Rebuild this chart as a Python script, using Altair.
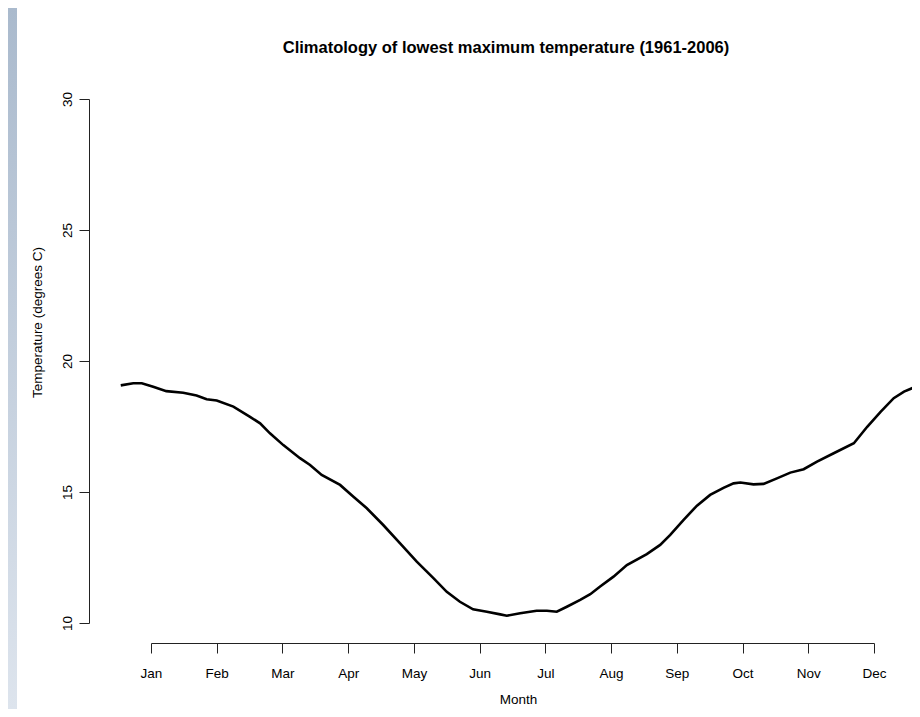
import altair as alt
import pandas as pd

# Day of year and smoothed lowest maximum temperature (degrees C)
days = [1.2, 6.9, 10.8, 16, 22, 29.7, 35.8, 40.4, 45, 52.6, 60.2, 64.8, 69.3, 75.4,
        83, 87.6, 92.9, 101.3, 107.4, 113.5, 121, 128.7, 136.3, 143.9, 150, 156,
        162, 168.3, 174.4, 177.4, 183.5, 191, 195.7, 200.2, 204.8, 210.9, 215.5,
        220, 226.1, 232.2, 241.3, 247.4, 252, 258, 264.2, 270.2, 276.3, 280.9,
        284, 290, 294.6, 300.7, 306.8, 312.9, 319, 326.6, 335.8, 341.9, 348, 354,
        358.7, 364.8]
temps = [19.07, 19.15, 19.15, 19.02, 18.85, 18.79, 18.68, 18.54, 18.49, 18.26,
         17.87, 17.62, 17.24, 16.79, 16.29, 16.03, 15.65, 15.27, 14.82, 14.38,
         13.74, 13.04, 12.34, 11.71, 11.19, 10.81, 10.52, 10.43, 10.33, 10.28,
         10.37, 10.47, 10.47, 10.43, 10.62, 10.88, 11.10, 11.39, 11.77, 12.21,
         12.63, 12.98, 13.36, 13.93, 14.48, 14.89, 15.16, 15.33, 15.36, 15.29,
         15.31, 15.52, 15.74, 15.87, 16.16, 16.48, 16.86, 17.49, 18.06, 18.58,
         18.83, 19.05]

month_labels = ["Jan", "Feb", "Mar", "Apr", "May", "Jun",
                "Jul", "Aug", "Sep", "Oct", "Nov", "Dec"]
month_ticks = [15, 45, 75, 105, 135, 165, 195, 225, 255, 285, 315, 345]
y_ticks = [10, 15, 20, 25, 30]

df = pd.DataFrame({"day": days, "temp": temps})

label_expr = "{" + ",".join(f"'{t}':'{m}'" for t, m in zip(month_ticks, month_labels)) + "}[datum.value]"

FONT = "Liberation Sans"
W, H = 723, 524

line = alt.Chart(df).mark_line(color="black", strokeWidth=2.6).encode(
    x=alt.X("day:Q",
            scale=alt.Scale(domain=[15, 345], nice=False, zero=False),
            axis=alt.Axis(values=month_ticks, labelExpr=label_expr, title="Month",
                          offset=20, tickSize=10, labelPadding=24,
                          labelAlign="center", labelFlush=False,
                          labelBaseline="alphabetic", labelFontSize=13.5,
                          titleFontSize=13.5, titleFontWeight="normal",
                          titleX=367, titleY=60, titleBaseline="alphabetic",
                          titleAlign="center", grid=False,
                          domainColor="#222222", tickColor="#222222")),
    y=alt.Y("temp:Q",
            scale=alt.Scale(domain=[10, 30], nice=False, zero=False),
            axis=alt.Axis(values=y_ticks, title="Temperature (degrees C)",
                          offset=62, tickSize=10, labelPadding=8,
                          labelAngle=-90, labelAlign="center", labelFlush=False,
                          labelBaseline="alphabetic", labelFontSize=13.5,
                          titleFontSize=13.5, titleFontWeight="normal",
                          titleAngle=-90, titleX=-48, titleY=223,
                          titleBaseline="alphabetic", titleAlign="center",
                          grid=False, domainColor="#222222", tickColor="#222222")),
)

strip = alt.Chart(alt.Data(values=[{}])).mark_rect(
    fill=alt.LinearGradient(
        gradient="linear",
        stops=[alt.GradientStop(color="#aabacd", offset=0),
               alt.GradientStop(color="#dde4ed", offset=1)],
        x1=0, x2=0, y1=0, y2=1),
).encode(x=alt.value(-143), x2=alt.value(-134), y=alt.value(-91), y2=alt.value(610))

chart = alt.layer(strip, line).properties(
    width=W, height=H,
    background="white",
    autosize=alt.AutoSizeParams(type="none"),
    padding={"left": 143, "top": 91, "right": 38, "bottom": 86},
    title=alt.TitleParams("Climatology of lowest maximum temperature (1961-2006)",
                          anchor="middle", fontSize=16.5, fontWeight="bold",
                          font=FONT, offset=0, dy=61.5, baseline="alphabetic",
                          dx=-6.5, color="black"),
).configure_view(strokeWidth=0, stroke="transparent").configure_axis(
    labelFont=FONT, titleFont=FONT, labelColor="black", titleColor="black"
)

chart.save("out.html", embed_options={"renderer": "svg", "actions": False})
